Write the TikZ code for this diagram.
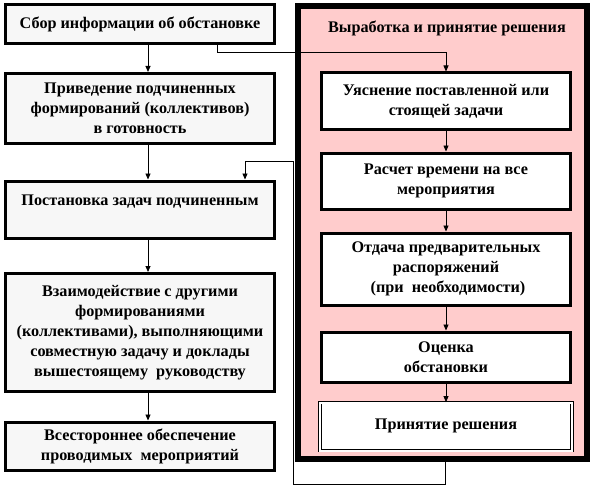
\documentclass[tikz,border=0pt]{standalone}
\usepackage{fontspec}
\setmainfont{Liberation Serif}
\usetikzlibrary{arrows.meta,calc}
\definecolor{pinkbg}{HTML}{FFCCCC}
\definecolor{graybg}{HTML}{F7F7F7}
\begin{document}
\begin{tikzpicture}[x=1pt,y=-1pt,
  txt/.style={font=\bfseries\fontsize{16.2}{20}\selectfont, align=center},
  lbox/.style={txt, draw=black, line width=3pt, fill=graybg, minimum width=269pt, inner sep=0pt},
  rbox/.style={txt, draw=black, line width=3pt, fill=white, minimum width=249pt, inner sep=0pt},
  dbox/.style={txt, draw=black, double=white, double distance=2pt, line width=0.8pt, fill=white, minimum width=252pt, inner sep=0pt},
  arr/.style={line width=0.8pt, -{Triangle[width=5pt,length=6pt]}},
  ln/.style={line width=0.8pt}]
\useasboundingbox (0,0) rectangle (595,487);
% left column
\node[lbox, minimum height=39pt] (b1) at (140,24) {Сбор информации об обстановке};
\node[lbox, minimum height=70pt] (b2) at (140,108.5) {Приведение подчиненных\\формирований (коллективов)\\в готовность};
\node[lbox, minimum height=57pt, anchor=north, text depth=30pt] (b3) at (140,179.5) {\rule{0pt}{22pt}Постановка задач подчиненным};
\node[lbox, minimum height=118pt] (b4) at (140,332.5) {Взаимодействие с другими\\формированиями\\(коллективами), выполняющими\\совместную задачу и доклады\\вышестоящему\ \ руководству};
\node[lbox, minimum height=48pt] (b5) at (140,446) {Всестороннее обеспечение\\проводимых\ \ мероприятий};
% frame
\node[draw=black, line width=4.5pt, fill=white, minimum width=290pt, minimum height=454pt, inner sep=0pt] (fr) at (442.5,232.5) {};
\draw[ln, fill=pinkbg] ($(fr.north west)+(5.5,5.5)$) rectangle ($(fr.south east)+(-5.5,-5.5)$);
\node[txt] (title) at (447,28) {Выработка и принятие решения};
% right column
\node[rbox, minimum height=56pt] (r1) at (446,101) {Уяснение поставленной или\\стоящей задачи};
\node[rbox, minimum height=56pt] (r2) at (446,181) {Расчет времени на все\\мероприятия};
\node[rbox, minimum height=72pt] (r3) at (446,269) {Отдача предварительных\\распоряжений\\\ (при\ \ необходимости)};
\node[rbox, minimum height=50pt] (r4) at (446,357) {Оценка\\обстановки};
\node[dbox, minimum height=48pt] (r5) at (446,426.5) {\raisebox{4pt}{Принятие решения}};
% helper coordinates
\coordinate (ax) at (148,0);
\coordinate (j1) at (217,52);
\coordinate (lb) at (445,484);
\coordinate (lt) at (293,161);
\coordinate (lx) at (245,0);
% connectors
\draw[arr] (b1.south -| ax) -- (b2.north -| ax);
\draw[arr] (b2.south -| ax) -- (b3.north -| ax);
\draw[arr] (b3.south -| ax) -- (b4.north -| ax);
\draw[arr] (b4.south -| ax) -- (b5.north -| ax);
\draw[arr] (b1.south -| j1) -- (j1) -| (r1.north);
\draw[arr] (r1) -- (r2);
\draw[arr] (r2) -- (r3);
\draw[arr] (r3) -- (r4);
\draw[arr] (r4) -- (r5);
\draw[arr] (fr.south -| lb) -- (lb) -| (lt) -| (b3.north -| lx);
\end{tikzpicture}
\end{document}
